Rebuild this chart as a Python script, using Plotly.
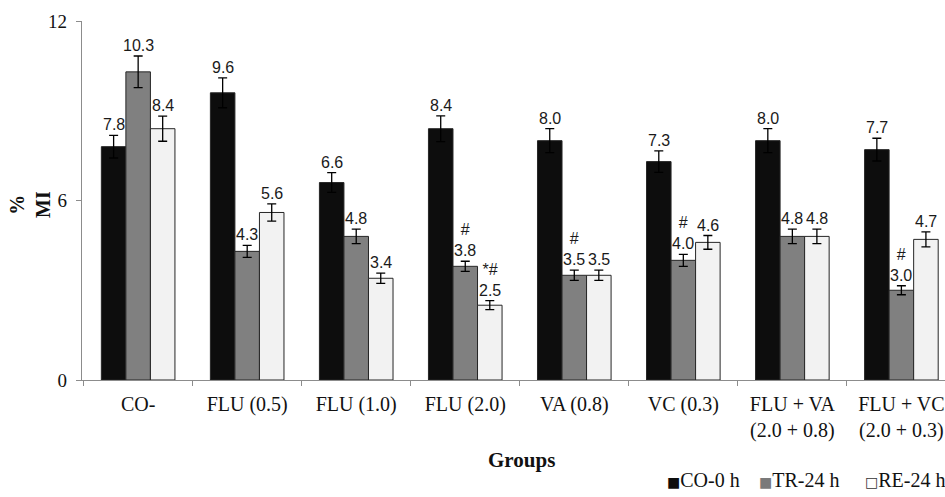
import plotly.graph_objects as go

# Mitotic index (%) per treatment group, three sampling times
groups = ["CO-", "FLU (0.5)", "FLU (1.0)", "FLU (2.0)", "VA (0.8)", "VC (0.3)",
          "FLU + VA<br>(2.0 + 0.8)", "FLU + VC<br>(2.0 + 0.3)"]
series_names = ["CO-0 h", "TR-24 h", "RE-24 h"]

co_0h = [7.8, 9.6, 6.6, 8.4, 8.0, 7.3, 8.0, 7.7]
tr_24h = [10.3, 4.3, 4.8, 3.8, 3.5, 4.0, 4.8, 3.0]
re_24h = [8.4, 5.6, 3.4, 2.5, 3.5, 4.6, 4.8, 4.7]

co_0h_err = [0.38, 0.50, 0.33, 0.43, 0.40, 0.36, 0.40, 0.38]
tr_24h_err = [0.53, 0.20, 0.24, 0.17, 0.17, 0.20, 0.24, 0.15]
re_24h_err = [0.42, 0.29, 0.17, 0.15, 0.17, 0.23, 0.24, 0.25]

# significance marks printed above the value labels
co_0h_sig = ["", "", "", "", "", "", "", ""]
tr_24h_sig = ["", "", "", "#", "#", "#", "", "#"]
re_24h_sig = ["", "", "", "*#", "", "", "", ""]

y_ticks = [0, 6, 12]

bar_colors = ["#0d0d0d", "#808080", "#f2f2f2"]
legend_marks = ["■", "■", "□"]
legend_mark_colors = ["#0d0d0d", "#7a7a7a", "#333333"]

values = [co_0h, tr_24h, re_24h]
errors = [co_0h_err, tr_24h_err, re_24h_err]
sigs = [co_0h_sig, tr_24h_sig, re_24h_sig]

SERIF = "Liberation Serif"
SANS = "Liberation Sans"
BAR_GAP = 0.325
W, H = 945, 497
ML, MR, MT, MB = 82, 0, 21, 117
plot_w = W - ML - MR
plot_h = H - MT - MB
x_range = [-0.515, 7.40]


def px_to_paper_x(px):
    return (px - ML) / plot_w


def px_to_paper_y(py):
    return (H - MB - py) / plot_h


fig = go.Figure()
for name, vals, errs, color in zip(series_names, values, errors, bar_colors):
    fig.add_trace(go.Bar(
        name=name, x=groups, y=vals,
        marker=dict(color=color, line=dict(color="#262626", width=1)),
        error_y=dict(type="data", array=errs, color="#000000",
                     thickness=1.3, width=4.5),
        showlegend=False, hoverinfo="x+y",
    ))

annotations = []
bar_w = (1 - BAR_GAP) / len(series_names)
for i, (vals, errs, marks) in enumerate(zip(values, errors, sigs)):
    for k, (v, e, m) in enumerate(zip(vals, errs, marks)):
        label = f"{v:.1f}" if not m else f"{m}<br>{v:.1f}"
        annotations.append(dict(
            x=k + (i - 1) * bar_w, y=v + e, xref="x", yref="y",
            text=label, showarrow=False, xanchor="center", yanchor="bottom",
            font=dict(family=SANS, size=16, color="#1a1a1a"),
        ))

# axis titles
annotations.append(dict(
    x=px_to_paper_x(30), y=px_to_paper_y(205), xref="paper", yref="paper",
    text="<b>%<br>MI</b>", textangle=-90, showarrow=False,
    xanchor="center", yanchor="middle",
    font=dict(family=SERIF, size=20, color="#111111"),
))
annotations.append(dict(
    x=px_to_paper_x(521), y=px_to_paper_y(460), xref="paper", yref="paper",
    text="<b>Groups</b>", showarrow=False, xanchor="center", yanchor="middle",
    font=dict(family=SERIF, size=21, color="#111111"),
))

# legend row along the bottom edge
legend_left_px = [665, 757, 863]
for name, mark, mcol, lx in zip(series_names, legend_marks, legend_mark_colors, legend_left_px):
    annotations.append(dict(
        x=px_to_paper_x(lx), y=px_to_paper_y(480), xref="paper", yref="paper",
        text=(f"<span style='font-family:DejaVu Sans;font-size:14px;color:{mcol}'>{mark}</span>"
              f"{name}"),
        showarrow=False, xanchor="left", yanchor="middle",
        font=dict(family=SERIF, size=20, color="#111111"),
    ))

fig.update_layout(
    width=W, height=H,
    margin=dict(l=ML, r=MR, t=MT, b=MB),
    paper_bgcolor="white", plot_bgcolor="white",
    barmode="group", bargap=BAR_GAP, bargroupgap=0,
    showlegend=False,
    annotations=annotations,
)
fig.update_xaxes(
    type="category", range=x_range, tickson="boundaries",
    ticks="outside", ticklen=5, tickcolor="#8c8c8c",
    showline=True, linecolor="#8c8c8c", linewidth=1.3,
    showgrid=False, zeroline=False,
    tickfont=dict(family=SERIF, size=20, color="#111111"),
    ticklabelstandoff=6,
)
fig.update_yaxes(
    range=[0, 12], tickmode="array", tickvals=y_ticks,
    ticks="outside", ticklen=5, tickcolor="#8c8c8c",
    showline=True, linecolor="#8c8c8c", linewidth=1.3,
    showgrid=False, zeroline=False,
    tickfont=dict(family=SERIF, size=19, color="#111111"),
    ticklabelstandoff=5,
)

fig.write_html("out.html")
